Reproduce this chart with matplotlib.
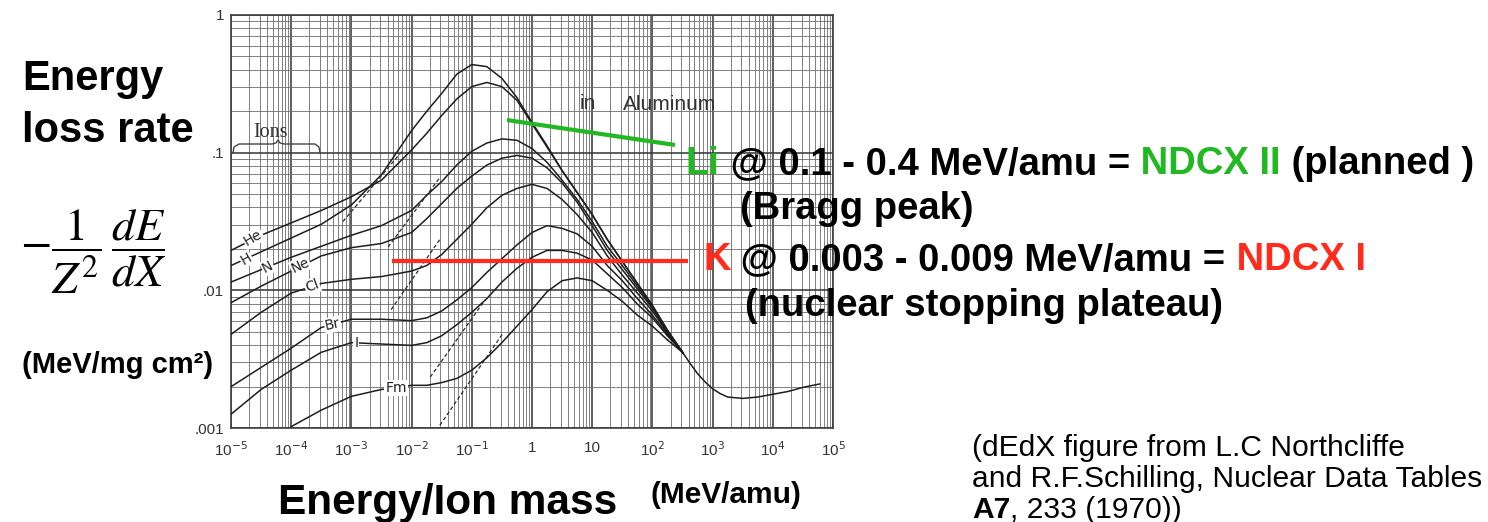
import numpy as np
import matplotlib
matplotlib.use('Agg')
import matplotlib.pyplot as plt
from matplotlib.ticker import LogLocator, NullFormatter
from matplotlib.lines import Line2D

W, H = 1488, 522
plt.rcParams['font.family'] = ['Liberation Sans', 'DejaVu Sans']

# energy grid, log10(MeV/amu)
log_e = [-5, -4.5, -4, -3.5, -3, -2.5, -2, -1.75, -1.5, -1.25, -1, -0.75,
         -0.5, -0.25, 0, 0.25, 0.5, 0.75, 1, 1.25, 1.5, 1.75, 2, 2.25]
log_e_fm = log_e[2:]
# common high energy tail (all ions merge)
tail_log_e = [2.5, 2.625, 2.75, 2.875, 3, 3.125, 3.25, 3.5, 3.75, 4, 4.25, 4.5, 4.78]
tail_log_s = [-2.45, -2.53, -2.605, -2.665, -2.715, -2.75, -2.775, -2.785, -2.775, -2.755,
              -2.735, -2.705, -2.68]

# log10 of -1/Z^2 dE/dX  (MeV/mg cm2)
log_s = {
    'H':  [-1.82, -1.72, -1.62, -1.52, -1.38, -1.16, -0.84, -0.70, -0.57, -0.43, -0.36, -0.375,
           -0.46, -0.60, -0.78, -0.95, -1.13, -1.29, -1.45, -1.63, -1.79, -1.95, -2.11, -2.29],
    'He': [-1.71, -1.60, -1.51, -1.42, -1.32, -1.20, -0.98, -0.86, -0.73, -0.61, -0.52, -0.49,
           -0.52, -0.62, -0.79, -0.96, -1.13, -1.29, -1.45, -1.63, -1.79, -1.95, -2.11, -2.29],
    'N':  [-1.94, -1.85, -1.76, -1.68, -1.60, -1.53, -1.42, -1.31, -1.21, -1.09, -0.99, -0.93,
           -0.90, -0.91, -0.97, -1.07, -1.20, -1.34, -1.50, -1.68, -1.82, -1.97, -2.12, -2.30],
    'Ne': [-2.09, -1.97, -1.86, -1.75, -1.69, -1.66, -1.58, -1.48, -1.37, -1.26, -1.17, -1.09,
           -1.04, -1.02, -1.04, -1.11, -1.22, -1.36, -1.53, -1.71, -1.85, -1.99, -2.13, -2.30],
    'Cl': [-2.32, -2.16, -2.02, -1.95, -1.92, -1.90, -1.86, -1.82, -1.74, -1.63, -1.52, -1.40,
           -1.31, -1.26, -1.23, -1.26, -1.34, -1.45, -1.58, -1.75, -1.89, -2.02, -2.15, -2.31],
    'Br': [-2.70, -2.56, -2.42, -2.27, -2.21, -2.21, -2.22, -2.20, -2.15, -2.07, -1.98, -1.87,
           -1.77, -1.67, -1.58, -1.53, -1.55, -1.59, -1.68, -1.82, -1.93, -2.06, -2.18, -2.32],
    'I':  [-2.90, -2.72, -2.58, -2.45, -2.38, -2.39, -2.40, -2.38, -2.33, -2.25, -2.16, -2.06,
           -1.94, -1.84, -1.76, -1.71, -1.71, -1.73, -1.78, -1.88, -1.98, -2.10, -2.20, -2.33],
}
log_s_fm = [-2.99, -2.87, -2.77, -2.72, -2.69, -2.69, -2.67, -2.64, -2.58, -2.49, -2.38, -2.26,
            -2.14, -2.01, -1.93, -1.91, -1.93, -2.00, -2.08, -2.18, -2.26, -2.36]

# dashed extrapolations (log10 E pairs, log10 S pairs)
dash_log_e = [(-3.14, -2.14), (-2.39, -1.53), (-2.34, -1.53), (-1.69, -0.78), (-1.53, -0.48)]
dash_log_s = [(-1.50, -0.98), (-1.685, -1.18), (-2.14, -1.63), (-2.63, -2.07), (-2.98, -2.31)]

# ion labels sitting on the curves: name, log10 E, log10 S, rotation
ion_labels = [('He', -4.63, -1.62, 30), ('H', -4.75, -1.77, 30), ('N', -4.39, -1.83, 28),
              ('Ne', -3.85, -1.82, 25), ('Cl', -3.65, -1.97, 20), ('Br', -3.31, -2.25, 12),
              ('I', -2.92, -2.38, 0), ('Fm', -2.26, -2.71, 0)]

# highlight lines (log10 E, log10 S)
green_log_e, green_log_s = [-0.415, 2.375], [-0.763, -0.944]
red_log_e, red_log_s = [-2.33, 2.59], [-1.786, -1.786]

x_ticks = [1e-5, 1e-4, 1e-3, 1e-2, 1e-1, 1, 10, 1e2, 1e3, 1e4, 1e5]
x_ticklabels = ['10$^{-5}$', '10$^{-4}$', '10$^{-3}$', '10$^{-2}$', '10$^{-1}$', '1', '10',
                '10$^{2}$', '10$^{3}$', '10$^{4}$', '10$^{5}$']
y_ticks = [1e-3, 1e-2, 1e-1, 1]
y_ticklabels = ['.001', '.01', '.1', '1']

GREEN = '#22b822'
RED = '#ff2b1c'

fig = plt.figure(figsize=(W / 100, H / 100), dpi=100)
ax = fig.add_axes([231 / W, 1 - 428 / H, (833 - 231) / W, (428 - 15) / H])
ax.set_xscale('log')
ax.set_yscale('log')
ax.set_xlim(1e-5, 1e5)
ax.set_ylim(1e-3, 1)

ax.xaxis.set_minor_locator(LogLocator(base=10, subs=np.arange(2, 10), numticks=200))
ax.yaxis.set_minor_locator(LogLocator(base=10, subs=np.arange(2, 10), numticks=200))
ax.xaxis.set_minor_formatter(NullFormatter())
ax.yaxis.set_minor_formatter(NullFormatter())
ax.grid(which='major', color='0.2', lw=1.1)
ax.grid(which='minor', color='0.42', lw=0.6)
ax.set_axisbelow(True)
ax.set_xticks(x_ticks)
ax.set_xticklabels(x_ticklabels, fontsize=11, color='#333333')
ax.set_yticks(y_ticks)
ax.set_yticklabels(y_ticklabels, fontsize=11, color='#333333')
ax.tick_params(which='both', length=0)
ax.tick_params(axis='x', pad=9)
ax.tick_params(axis='y', pad=5)
for s in ax.spines.values():
    s.set_color('0.25')
    s.set_linewidth(1.2)

curve_kw = dict(color='#1e1e1e', lw=1.1, zorder=3, solid_joinstyle='round')
for name, vals in log_s.items():
    ax.plot(10 ** np.array(log_e), 10 ** np.array(vals), **curve_kw)
ax.plot(10 ** np.array(log_e_fm), 10 ** np.array(log_s_fm), **curve_kw)
ax.plot(10 ** np.array(tail_log_e), 10 ** np.array(tail_log_s), **curve_kw)
# join every curve to the shared tail
for vals in list(log_s.values()) + [log_s_fm]:
    ax.plot([10 ** log_e[-1], 10 ** tail_log_e[0]], [10 ** vals[-1], 10 ** tail_log_s[0]], **curve_kw)

for xe, ys in zip(dash_log_e, dash_log_s):
    ax.plot(10 ** np.array(xe), 10 ** np.array(ys), color='#2a2a2a', lw=0.9, ls=(0, (3, 2)), zorder=3)

for name, le, ls_, rot in ion_labels:
    ax.text(10 ** le, 10 ** ls_, name, fontsize=10, family='DejaVu Sans', color='#222222',
            rotation=rot, rotation_mode='anchor', ha='center', va='center', zorder=5,
            bbox=dict(facecolor='white', edgecolor='none', pad=0.6))

ax.plot(10 ** np.array(green_log_e), 10 ** np.array(green_log_s), color=GREEN, lw=3.0,
        zorder=6, clip_on=False, solid_capstyle='butt')
ax.plot(10 ** np.array(red_log_e), 10 ** np.array(red_log_s), color=RED, lw=3.0,
        zorder=6, clip_on=False, solid_capstyle='butt')


def fxy(px, py):
    return px / W, 1 - py / H


# "Ions" bracket
brace_x = [233, 234, 239, 272, 276, 278, 280, 284, 315, 319, 320]
brace_y = [153, 147, 144, 144, 143, 140, 143, 144, 144, 147, 153]
fig.add_artist(Line2D([x / W for x in brace_x], [1 - y / H for y in brace_y],
                      color='#444444', lw=1.0))
fig.text(*fxy(253, 137), 'Ions', fontsize=14.5, family='Liberation Serif', color='#333333',
         va='baseline')
fig.text(*fxy(580, 109), 'in', fontsize=15, color='#333333', va='baseline')
fig.text(*fxy(623, 110), 'Aluminum', fontsize=15, color='#333333', va='baseline')

renderer = fig.canvas.get_renderer()


def draw_runs(px, py, runs, size, default_weight='bold'):
    x, y = fxy(px, py)
    for txt, col, wt in runs:
        t = fig.text(x, y, txt, color=col, fontsize=size, fontweight=wt or default_weight,
                     va='baseline', ha='left', zorder=10)
        bb = t.get_window_extent(renderer)
        x = fig.transFigure.inverted().transform((bb.x1, bb.y0))[0]


# left titles
fig.text(*fxy(22, 90), 'Energy', fontsize=30, fontweight='bold', va='baseline')
fig.text(*fxy(22, 142), 'loss rate', fontsize=30, fontweight='bold', va='baseline')
fig.text(*fxy(20, 252), r'$-\dfrac{1}{Z^2}\,\dfrac{dE}{dX}$', fontsize=33,
         math_fontfamily='stix', va='center', ha='left')
fig.text(*fxy(22, 373), '(MeV/mg cm²)', fontsize=21, fontweight='bold', va='baseline')

# x title
fig.text(*fxy(278, 514), 'Energy/Ion mass', fontsize=30.5, fontweight='bold', va='baseline')
fig.text(*fxy(650, 503), '(MeV/amu)', fontsize=21.5, fontweight='bold', va='baseline')

# right annotations
BIG = 27.5
draw_runs(686, 174, [('Li', GREEN, None), (' @ 0.1 - 0.4 MeV/amu =', 'black', None),
                     (' NDCX II', GREEN, None), (' (planned )', 'black', None)], BIG)
draw_runs(740, 219, [('(Bragg peak)', 'black', None)], BIG)
draw_runs(703, 270, [('K', RED, None), (' @ 0.003 - 0.009 MeV/amu =', 'black', None),
                     (' NDCX I', RED, None)], BIG)
draw_runs(745, 316, [('(nuclear stopping plateau)', 'black', None)], BIG)

# citation
CIT = 21.6
draw_runs(972, 456, [('(dEdX figure from L.C Northcliffe', 'black', 'normal')], CIT)
draw_runs(972, 487, [('and R.F.Schilling, Nuclear Data Tables', 'black', 'normal')], CIT)
draw_runs(972, 518, [('A7', 'black', 'bold'), (', 233 (1970))', 'black', 'normal')], CIT)

fig.savefig('out.png', dpi=100)
